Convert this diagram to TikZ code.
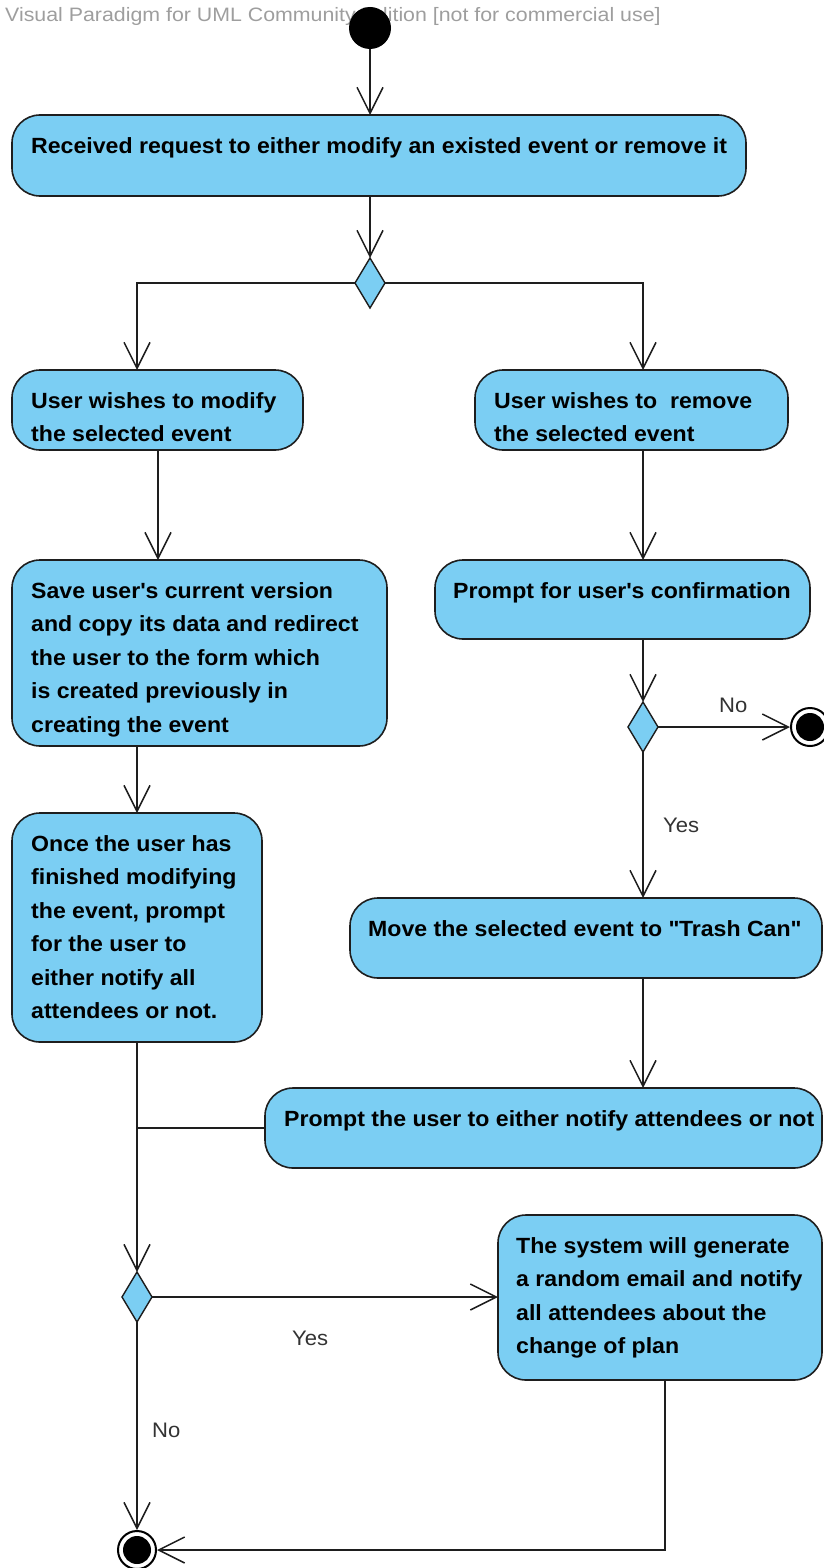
\documentclass[tikz,border=0pt]{standalone}
\usepackage{fontspec}
\setmainfont{Liberation Sans}[FakeStretch=1.05]
\newfontfamily\wmfont{Liberation Sans}[FakeStretch=1.1]
\usetikzlibrary{arrows.meta,shapes.geometric}
\definecolor{actfill}{HTML}{7BCEF3}
\definecolor{edgeline}{HTML}{1E1E1E}
\definecolor{wmark}{HTML}{9E9E9E}
\begin{document}
\begin{tikzpicture}[x=1pt,y=-1pt,
  actbox/.style={draw=edgeline, line width=1.6pt, fill=actfill, rounded corners=28pt,
    anchor=north west, inner sep=0pt, outer sep=0pt},
  acttext/.style={anchor=north west, inner sep=0pt, align=left,
    font=\bfseries\fontsize{22}{33.5}\selectfont, text=black},
  decision/.style={draw=edgeline, line width=1.4pt, fill=actfill, diamond,
    minimum width=30pt, minimum height=50pt, inner sep=0pt, outer sep=0pt},
  startnode/.style={circle, fill=black, minimum size=42pt, inner sep=0pt, outer sep=0pt},
  endnode/.style={circle, draw=black, line width=2pt, fill=white, minimum size=38pt,
    inner sep=0pt, outer sep=1pt,
    path picture={\fill[black] (path picture bounding box.center) circle (14pt);}},
  flow/.style={draw=edgeline, line width=1.5pt,
    -{Straight Barb[length=26pt,width=26pt]}},
  joinline/.style={draw=edgeline, line width=1.5pt},
  guard/.style={anchor=base west, font=\fontsize{21}{25}\selectfont, text=black!80, inner sep=0pt}
]
\useasboundingbox (0,0) rectangle (824,1568);

% watermark
\node[anchor=base west, text=wmark, font=\wmfont\fontsize{19.4}{21}\selectfont, inner sep=0pt]
  (wm) at (5,22) {Visual Paradigm for UML Community Edition [not for commercial use]};

% column guides for the vertical flows
\coordinate (colL) at (137,0);
\coordinate (colM) at (158,0);
\coordinate (colR) at (643,0);
\coordinate (colI) at (665,0);

% initial node
\node[startnode] (S) at (370,28) {};

% actions
\node[actbox, minimum width=734pt, minimum height=81pt] (A) at (12,115) {};
\node[acttext] (At) at (31,137) {Received request to either modify an existed event or remove it};

\node[actbox, minimum width=291pt, minimum height=80pt] (B) at (12,370) {};
\node[acttext] (Bt) at (31,392) {User wishes to modify\\the selected event};

\node[actbox, minimum width=313pt, minimum height=80pt] (C) at (475,370) {};
\node[acttext] (Ct) at (494,392) {User wishes to\ \ remove\\the selected event};

\node[actbox, minimum width=375pt, minimum height=186pt] (D) at (12,560) {};
\node[acttext] (Dt) at (31,582) {Save user\textquotesingle s current version\\and copy its data and redirect\\the user to the form which\\is created previously in\\creating the event};

\node[actbox, minimum width=375pt, minimum height=79pt] (E) at (435,560) {};
\node[acttext] (Et) at (453,582) {Prompt for user\textquotesingle s confirmation};

\node[actbox, minimum width=250pt, minimum height=229pt] (F) at (12,813) {};
\node[acttext] (Ft) at (31,835) {Once the user has\\finished modifying\\the event, prompt\\for the user to\\either notify all\\attendees or not.};

\node[actbox, minimum width=472pt, minimum height=80pt] (G) at (350,898) {};
\node[acttext] (Gt) at (368,920) {Move the selected event to \textquotedbl Trash Can\textquotedbl};

\node[actbox, minimum width=557pt, minimum height=80pt] (H) at (265,1088) {};
\node[acttext] (Ht) at (284,1110) {Prompt the user to either notify attendees or not};

\node[actbox, minimum width=324pt, minimum height=165pt] (I) at (498,1215) {};
\node[acttext] (It) at (516,1237) {The system will generate\\a random email and notify\\all attendees about the\\change of plan};

% decisions
\node[decision] (D1) at (370,283) {};
\node[decision] (D2) at (643,727) {};
\node[decision] (D3) at (137,1297) {};

% final nodes
\node[endnode] (F1) at (810,727) {};
\node[endnode] (F2) at (137,1550) {};

% flows
\draw[flow] (S.south) -- (S.south |- A.north);
\draw[flow] (S.south |- A.south) -- (D1.north);
\draw[flow] (D1.west) -| (colL |- B.north);
\draw[flow] (D1.east) -| (colR |- C.north);
\draw[flow] (colM |- B.south) -- (colM |- D.north);
\draw[flow] (colR |- C.south) -- (colR |- E.north);
\draw[flow] (colR |- E.south) -- (D2.north);
\draw[flow] (D2.east) -- (F1.west);
\draw[flow] (D2.south) -- (colR |- G.north);
\draw[flow] (colL |- D.south) -- (F.north);
\draw[flow] (colR |- G.south) -- (colR |- H.north);
\draw[flow] (F.south) -- (D3.north);
\draw[joinline] (H.west) -- (colL |- H.west);
\draw[flow] (D3.east) -- (I.west |- D3.east);
\draw[flow] (D3.south) -- (F2.north);
\draw[flow] (colI |- I.south) |- (F2.east);

% guards
\node[guard] (g1) at (719,712) {No};
\node[guard] (g2) at (663,832) {Yes};
\node[guard] (g3) at (292,1345) {Yes};
\node[guard] (g4) at (152,1437) {No};
\end{tikzpicture}
\end{document}
